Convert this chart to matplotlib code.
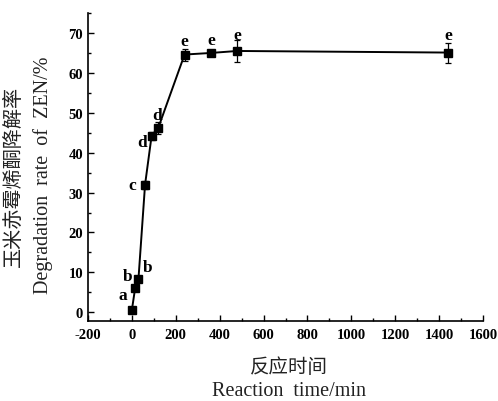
import matplotlib
matplotlib.use("Agg")
import matplotlib.pyplot as plt
from matplotlib.ticker import MultipleLocator

time_min = [0, 15, 30, 60, 90, 120, 240, 360, 480, 1440]
degradation = [0.6, 6.1, 8.4, 32.0, 44.3, 46.2, 64.6, 65.0, 65.5, 65.1]
error = [0.4, 0.5, 0.6, 1.0, 1.0, 1.5, 1.5, 0.6, 2.8, 2.5]
letters = ["a", "b", "b", "c", "d", "d", "e", "e", "e", "e"]
# label offsets in points (dx, dy)
letter_offsets = [(-6.5, 10.5), (-5.5, 8.5), (6.5, 8.5), (-9.5, 0), (-7, -4.5), (-1, 9.5), (0, 9.5), (0, 9), (0, 11.5), (0, 12.5)]

x_ticks = list(range(-200, 1601, 200))
y_ticks = list(range(0, 71, 10))

serif = "Liberation Serif"
cjk = "Noto Sans CJK SC"
plt.rcParams["font.family"] = [serif]
plt.rcParams["axes.unicode_minus"] = False

fig = plt.figure(figsize=(4.98, 4.02), dpi=100)
ax = fig.add_axes([0.1767, 0.199, 0.7933, 0.766])

ax.errorbar(time_min, degradation, yerr=error, color="black", marker="s",
            markersize=6, linewidth=1.4, elinewidth=0.9, capsize=2.5, capthick=0.9)

for x, y, lab, (dx, dy) in zip(time_min, degradation, letters, letter_offsets):
    ax.annotate(lab, (x, y), xytext=(dx, dy), textcoords="offset points",
                ha="center", va="center", fontsize=12.5, fontweight="bold", family=serif)

ax.set_xlim(-200, 1600)
ax.set_ylim(-2.2, 75)
ax.set_xticks(x_ticks)
ax.set_yticks(y_ticks)
ax.xaxis.set_minor_locator(MultipleLocator(100))
ax.yaxis.set_minor_locator(MultipleLocator(5))
ax.tick_params(which="major", direction="in", length=4.5, width=1.0, labelsize=10.5)
ax.tick_params(which="minor", direction="in", length=2.5, width=1.0)
ax.tick_params(axis="x", pad=5)
ax.spines["top"].set_visible(False)
ax.spines["right"].set_visible(False)
ax.spines["left"].set_linewidth(1.2)
ax.spines["bottom"].set_linewidth(1.2)
for lbl in ax.get_xticklabels() + ax.get_yticklabels():
    lbl.set_fontweight("bold")

fig.text(0.027, 0.56, "玉米赤霉烯酮降解率", rotation=90, ha="center", va="center",
         fontsize=14.5, family=[cjk], color="#222222", fontweight="light")
fig.text(0.087, 0.565, "Degradation  rate  of  ZEN/%", rotation=90, ha="center", va="center",
         fontsize=14.5, family=serif, color="#222222")
fig.text(0.58, 0.087, "反应时间", ha="center", va="center",
         fontsize=14, family=[cjk], color="#222222", fontweight="light")
fig.text(0.58, 0.027, "Reaction  time/min", ha="center", va="center",
         fontsize=14.5, family=serif, color="#222222")

fig.savefig("out.png", dpi=100)
